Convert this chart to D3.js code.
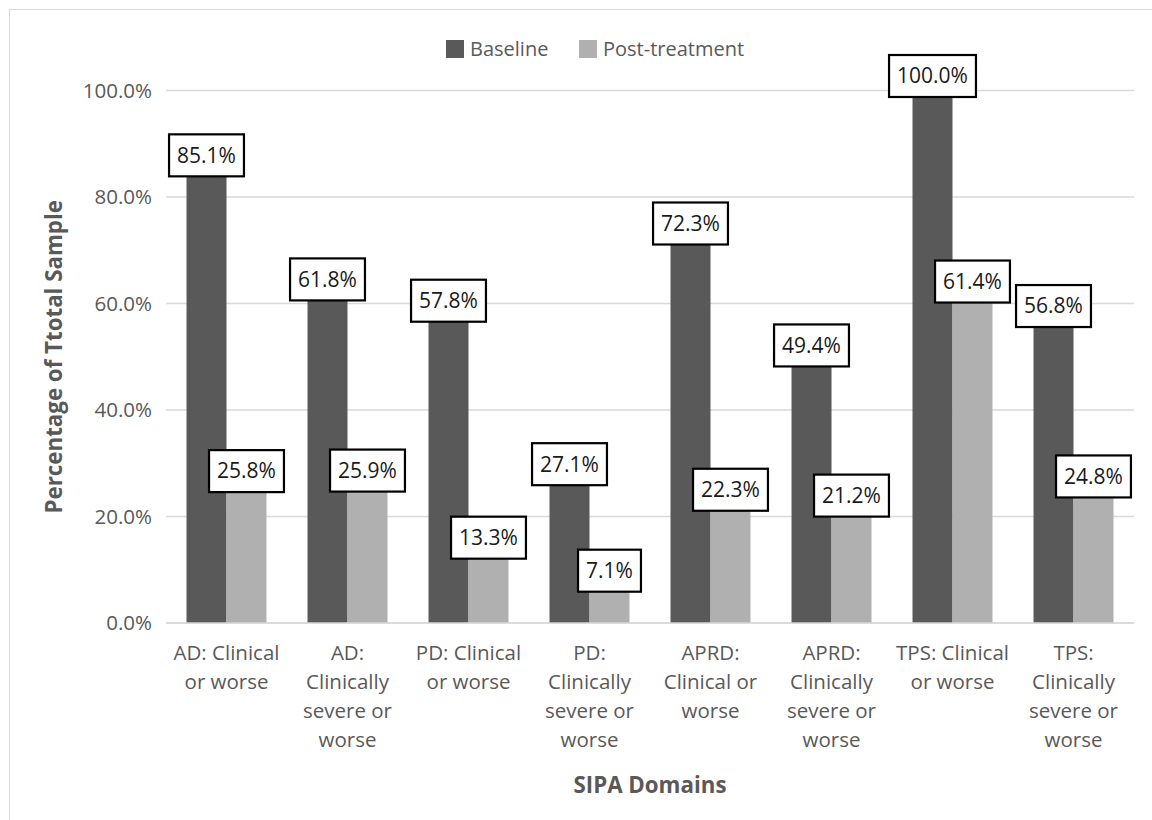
<!DOCTYPE html>
<html>
<head>
<meta charset="utf-8">
<script src="https://cdn.jsdelivr.net/npm/d3@7"></script>
<style>
  body { margin: 0; background: #fff; }
  svg { font-family: "Open Sans", "Noto Sans", sans-serif; }
</style>
</head>
<body>
<script>
var w = 1152;
var h = 820;

// data
var categories = [
    "AD: Clinical\nor worse",
    "AD:\nClinically\nsevere or\nworse",
    "PD: Clinical\nor worse",
    "PD:\nClinically\nsevere or\nworse",
    "APRD:\nClinical or\nworse",
    "APRD:\nClinically\nsevere or\nworse",
    "TPS: Clinical\nor worse",
    "TPS:\nClinically\nsevere or\nworse"
];
var seriesNames = ["Baseline", "Post-treatment"];
var baseline = [85.1, 61.8, 57.8, 27.1, 72.3, 49.4, 100.0, 56.8];
var postTreatment = [25.8, 25.9, 13.3, 7.1, 22.3, 21.2, 61.4, 24.8];
var yTicks = [0, 20, 40, 60, 80, 100];
var colors = ["#595959", "#b0b0b0"];

var margin = {left: 166, right: 18, top: 90.5, bottom: 197};

var svg = d3.select("body")
            .append("svg")
            .attr("width", w)
            .attr("height", h);

// outer chart frame
svg.append("rect")
    .attr("x", 9.5)
    .attr("y", 9.5)
    .attr("width", w + 20)
    .attr("height", h + 20)
    .attr("fill", "none")
    .attr("stroke", "#d9d9d9");

var xscale = d3.scaleBand()
                .domain(d3.range(categories.length))
                .range([margin.left, w - margin.right])
                .paddingInner(0.339)
                .paddingOuter(0.1695);

var inner = d3.scaleBand()
                .domain(seriesNames)
                .range([0, xscale.bandwidth()]);

var yscale = d3.scaleLinear()
                .domain([0, 100])
                .range([h - margin.bottom, margin.top]);

// gridlines
svg.selectAll("line.grid")
    .data(yTicks)
    .enter()
    .append("line")
    .attr("class", "grid")
    .attr("x1", margin.left)
    .attr("x2", w - margin.right)
    .attr("y1", function(d) { return yscale(d); })
    .attr("y2", function(d) { return yscale(d); })
    .attr("stroke", "#d9d9d9")
    .attr("stroke-width", 1.5);

// y axis labels
var yAxis = d3.axisLeft(yscale)
                .tickValues(yTicks)
                .tickSize(0)
                .tickPadding(14)
                .tickFormat(function(d) { return d.toFixed(1) + "%"; });

svg.append("g")
    .attr("transform", "translate(" + margin.left + ",0)")
    .call(yAxis)
    .call(function(g) {
        g.select(".domain").remove();
        g.selectAll("text")
            .attr("font-size", "20.5px")
            .attr("font-family", "'Open Sans', sans-serif")
            .attr("fill", "#595959");
    });

// bars
var rows = categories.map(function(c, i) {
    return {i: i, values: [baseline[i], postTreatment[i]]};
});

var groups = svg.selectAll("g.cat")
                .data(rows)
                .enter()
                .append("g")
                .attr("class", "cat")
                .attr("transform", function(d) {
                    return "translate(" + xscale(d.i) + ",0)";
                });

groups.selectAll("rect")
    .data(function(d) { return d.values; })
    .enter()
    .append("rect")
    .attr("x", function(d, j) { return inner(seriesNames[j]); })
    .attr("y", function(d) { return yscale(d); })
    .attr("width", inner.bandwidth())
    .attr("height", function(d) { return yscale(0) - yscale(d); })
    .attr("fill", function(d, j) { return colors[j]; });

// x axis line
svg.append("line")
    .attr("x1", margin.left)
    .attr("x2", w - margin.right)
    .attr("y1", yscale(0))
    .attr("y2", yscale(0))
    .attr("stroke", "#d9d9d9")
    .attr("stroke-width", 1.5);

// value labels in boxes
groups.each(function(d) {
    var g = d3.select(this);
    d.values.forEach(function(v, j) {
        var cx = inner(seriesNames[j]) + inner.bandwidth() / 2;
        var cy = yscale(v) - 14.5;
        var lg = g.append("g");
        var t = lg.append("text")
            .text(v.toFixed(1) + "%")
            .attr("x", cx)
            .attr("y", cy)
            .attr("dy", "0.35em")
            .attr("text-anchor", "middle")
            .attr("font-size", "21px")
            .attr("fill", "#1a1a1a");
        var tw = t.node().getComputedTextLength();
        lg.insert("rect", "text")
            .attr("x", cx - tw / 2 - 8)
            .attr("y", cy - 21)
            .attr("width", tw + 16)
            .attr("height", 42)
            .attr("fill", "#fff")
            .attr("stroke", "#000")
            .attr("stroke-width", 2.2);
    });
});

// category labels
var catLabels = svg.selectAll("text.cat")
                    .data(categories)
                    .enter()
                    .append("text")
                    .attr("class", "cat")
                    .attr("text-anchor", "middle")
                    .attr("font-size", "20.5px")
                    .attr("fill", "#595959")
                    .attr("transform", function(d, i) {
                        return "translate(" + (xscale(i) + xscale.bandwidth() / 2) + "," + (yscale(0) + 37) + ")";
                    });

catLabels.selectAll("tspan")
    .data(function(d) { return d.split("\n"); })
    .enter()
    .append("tspan")
    .attr("x", 0)
    .attr("y", function(d, k) { return k * 29; })
    .text(function(d) { return d; });

// axis titles
svg.append("text")
    .attr("transform", "translate(62," + (yscale(50)) + ") rotate(-90)")
    .attr("text-anchor", "middle")
    .attr("font-size", "22.3px")
    .attr("font-weight", "bold")
    .attr("fill", "#595959")
    .text("Percentage of Ttotal Sample");

svg.append("text")
    .attr("x", (margin.left + w - margin.right) / 2)
    .attr("y", 793)
    .attr("text-anchor", "middle")
    .attr("font-size", "22.3px")
    .attr("font-weight", "bold")
    .attr("fill", "#595959")
    .text("SIPA Domains");

// legend
var legendX = [446, 579];
var legend = svg.selectAll("g.legend")
                .data(seriesNames)
                .enter()
                .append("g")
                .attr("class", "legend")
                .attr("transform", function(d, i) {
                    return "translate(" + legendX[i] + ",40)";
                });

legend.append("rect")
    .attr("width", 18)
    .attr("height", 18)
    .attr("fill", function(d, i) { return colors[i]; });

legend.append("text")
    .attr("x", 24)
    .attr("y", 9)
    .attr("dy", "0.35em")
    .attr("font-size", "20px")
    .attr("fill", "#595959")
    .text(function(d) { return d; });
</script>
</body>
</html>
